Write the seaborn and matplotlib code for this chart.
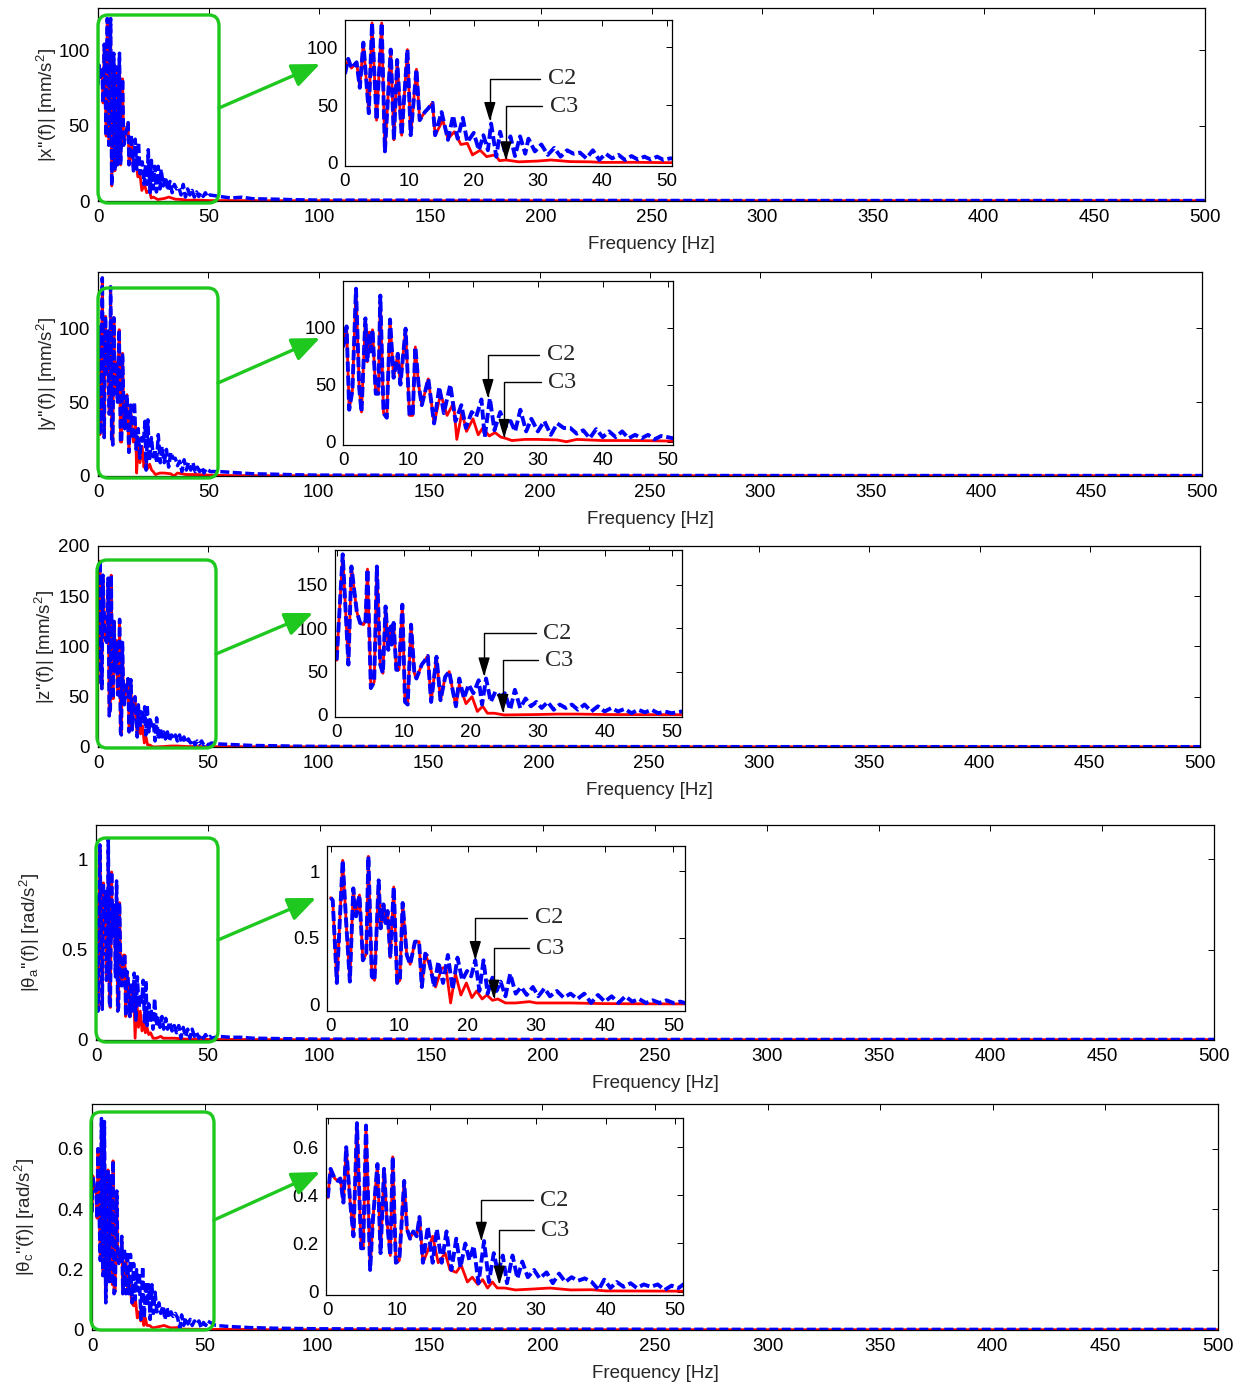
import numpy as np
import pandas as pd
import seaborn as sns
import matplotlib
matplotlib.use("Agg")
import matplotlib.pyplot as plt
from matplotlib.patches import FancyBboxPatch, FancyArrowPatch
from matplotlib.ticker import FuncFormatter

# ---------------- data ----------------
FREQ_TICKS = [0, 50, 100, 150, 200, 250, 300, 350, 400, 450, 500]
INSET_TICKS = [0, 10, 20, 30, 40, 50]

# Panel 1 : |x''(f)|
P1_LOW_F = [0, 0.5, 1.0, 1.8, 2.3, 2.85, 3.7, 4.2, 4.9, 5.7, 6.2, 7.1, 7.6, 8.1, 8.8, 9.7, 10.2, 11.1, 11.6, 12.4, 12.9, 13.6, 14.0]
P1_LOW = [77, 90, 82, 87, 65, 104, 43, 121, 37, 121, 10, 98, 20, 89, 24, 98, 24, 81, 37, 44, 47, 52, 24]
P1_C2_F = [15.0, 16.0, 16.8, 17.5, 18.3, 19.0, 20.0, 20.8, 21.5, 22.2, 22.7, 23.5, 24.1, 24.9, 25.7, 26.4, 27.2, 28.0, 28.5, 29.5,
           30.5, 31.5, 32.5, 33.5, 34.5, 35.5, 36.5, 37.5, 38.5, 39.5, 40.5, 41.5, 42.5, 43.5, 44.5, 45.5, 46.5, 47.5, 48.5, 49.5, 50.5,
           55, 60, 65, 70, 80, 90, 100, 150, 200, 300, 400, 500]
P1_C2 = [44, 20, 41, 21, 39, 18, 26, 11, 24, 11, 34, 5.5, 27, 8, 23, 6, 23, 8, 21, 10,
         16, 7, 13, 5.5, 11, 8, 9, 4, 11, 2.6, 8, 4, 7, 2.6, 6, 3, 5.5, 3, 5.5, 2.6, 4,
         3, 2, 2.5, 1.5, 1.2, 0.8, 0.6, 0.5, 0.4, 0.3, 0.3, 0.3]
P1_C3_F = [15.2, 16.0, 17.0, 18.0, 19.0, 19.8, 21.0, 22.0, 23.3, 24.0, 25.0, 27.0, 30.0, 32.0, 35.0, 38.0, 40.0, 45.0, 50.0,
           60, 80, 100, 200, 300, 400, 500]
P1_C3 = [37, 21, 27, 16, 17, 7, 11, 5.5, 7, 2, 2.6, 1, 1.7, 2.6, 1.2, 1, 0.5, 0.6, 0.3,
         0.3, 0.2, 0.2, 0.2, 0.2, 0.2, 0.2]

# Panel 2 : |y''(f)|
P2_LOW_F = [0, 0.5, 0.9, 1.4, 1.95, 2.45, 2.8, 3.4, 3.7, 4.0, 4.2, 4.5, 5.0, 5.4, 5.7, 6.2, 6.7, 7.2, 7.75, 8.4, 8.8, 9.6, 10.2, 10.7, 11.1, 11.6, 12.1, 13.1, 14.0]
P2_LOW = [83, 101, 28, 45, 134, 47, 26, 108, 70, 96, 79, 98, 42, 42, 128, 25, 21, 107, 56, 77, 50, 99, 23, 23, 83, 50, 32, 55, 16]
P2_C2_F = [14.8, 15.5, 16.5, 17.3, 18.2, 18.9, 19.8, 20.5, 21.3, 21.8, 22.6, 23.3, 24.2, 25.0, 25.8, 26.5, 27.3, 28.2, 29.0,
           30, 31, 32, 33, 34, 35, 36, 37, 38, 39, 40, 41, 42, 43, 44, 45, 46, 47, 48, 49, 50, 50.8,
           55, 60, 65, 70, 80, 90, 100, 150, 200, 300, 400, 500]
P2_C2 = [48, 25, 50, 18, 32, 12, 26, 22, 37, 4, 38, 10, 26, 13, 18, 9, 28, 9, 20,
         9, 18, 6, 16, 12, 12, 7, 10, 3, 11, 4, 9, 4, 9, 3, 6, 3, 6, 2, 5, 4, 3,
         3, 2.5, 2, 1.5, 1.2, 0.8, 0.6, 0.5, 0.4, 0.3, 0.3, 0.3]
P2_C3_F = [15.0, 16.0, 17.0, 17.5, 18.3, 19.0, 20.0, 20.8, 21.5, 22.5, 23.4, 24.3, 25.0, 26.0, 28.0, 30.0, 33.0, 34.4, 36.0, 40.0, 45.0, 50.0,
           60, 80, 100, 200, 300, 400, 500]
P2_C3 = [42, 23, 34, 2, 26, 9, 20, 6, 12, 5, 8, 4, 3, 1, 2, 2, 1.5, 0, 2, 1, 1, 0.6,
         0.3, 0.2, 0.2, 0.2, 0.2, 0.2, 0.2]

# Panel 3 : |z''(f)|
P3_LOW_F = [0, 0.9, 1.75, 2.2, 3.0, 3.5, 4.0, 4.3, 4.6, 5.1, 5.6, 6.0, 6.5, 6.9, 7.3, 7.7, 8.1, 8.2, 8.5, 8.9,
            9.3, 9.8, 10.2, 10.6, 11.1, 11.6, 11.9, 12.7, 13.1, 13.6, 14.1, 14.9, 15.5, 16.2, 16.8, 17.4, 17.8]
P3_LOW = [63, 185, 58, 171, 119, 106, 104, 108, 168, 31, 38, 171, 58, 48, 125, 75, 102, 81, 106, 52,
          52, 127, 15, 12, 104, 48, 42, 58, 62, 68, 15, 67, 17, 44, 50, 25, 10]
P3_C2_F = [18.3, 19.0, 19.7, 20.4, 21.2, 21.7, 22.3, 23.0, 23.7, 24.5, 25.1, 25.9, 26.6, 27.4, 28.2, 29.0, 29.8, 30.6, 31.5, 32.4,
           33.3, 34.2, 35.1, 36, 37, 38, 39, 40, 41, 42, 43, 44, 45, 46, 47, 48, 49, 50, 51.5,
           55, 60, 65, 70, 80, 90, 100, 150, 200, 300, 400, 500]
P3_C2 = [42, 19, 35, 25, 40, 12, 42, 15, 27, 21, 25, 6, 29, 8, 19, 10, 15, 8, 15, 6,
         12, 8, 12, 6, 12, 4, 10, 4, 8, 4, 7, 2, 6, 3, 6, 2, 4, 2, 4,
         3, 2.5, 2, 1.5, 1.2, 0.8, 0.6, 0.5, 0.4, 0.3, 0.3, 0.3]
P3_C3_F = [18.3, 19.3, 20.2, 21.0, 21.8, 22.5, 23.5, 25.0, 30, 33, 36, 40, 50, 60, 80, 100, 200, 300, 400, 500]
P3_C3 = [35, 13, 21, 4, 10, 2, 2, 0, 0.5, 1, 1, 0.5, 0.3, 0.3, 0.2, 0.2, 0.2, 0.2, 0.2, 0.2]

# Panel 4 : |theta_a''(f)|
P4_LOW_F = [0, 0.3, 0.9, 1.75, 2.3, 2.8, 3.3, 3.7, 4.2, 4.7, 5.2, 5.5, 6.0, 6.4, 7.0, 7.3, 7.7, 8.0, 8.3, 8.7,
            9.2, 9.7, 10.1, 10.5, 11.1, 11.6, 12.3, 12.9, 13.3, 13.8]
P4_LOW = [0.80, 0.78, 0.16, 1.08, 0.58, 0.17, 0.87, 0.66, 0.82, 0.33, 0.38, 1.11, 0.21, 0.18, 0.93, 0.57, 0.75, 0.61, 0.70, 0.35,
          0.88, 0.16, 0.18, 0.76, 0.37, 0.30, 0.47, 0.47, 0.13, 0.38]
P4_C2_F = [14.3, 15.1, 15.7, 16.4, 17.1, 17.8, 18.5, 19.2, 19.9, 20.5, 21.1, 21.7, 22.3, 22.9, 23.6, 24.2, 24.8, 25.5, 26.2, 27.0,
           27.8, 28.6, 29.5, 30.3, 31.2, 32, 33, 34, 35, 36, 37, 38, 39, 40, 41, 42, 43, 44, 45, 46, 47, 48, 49, 50, 51, 51.7,
           55, 60, 65, 70, 80, 90, 100, 150, 200, 300, 400, 500]
P4_C2 = [0.35, 0.13, 0.32, 0.16, 0.37, 0.11, 0.35, 0.18, 0.25, 0.21, 0.33, 0.10, 0.33, 0.08, 0.20, 0.10, 0.17, 0.06, 0.23, 0.08,
         0.13, 0.07, 0.13, 0.06, 0.12, 0.06, 0.10, 0.05, 0.08, 0.04, 0.08, 0.01, 0.07, 0.02, 0.06, 0.01, 0.06, 0.02, 0.04, 0.01,
         0.03, 0.01, 0.03, 0.01, 0.02, 0.01,
         0.02, 0.015, 0.015, 0.01, 0.008, 0.006, 0.005, 0.004, 0.003, 0.003, 0.003, 0.003]
P4_C3_F = [14.5, 15.3, 16.2, 16.8, 17.5, 18.2, 19.0, 19.8, 20.6, 21.3, 22.1, 22.8, 23.6, 24.4, 25.5, 27, 29, 30, 35, 40, 50,
           60, 80, 100, 200, 300, 400, 500]
P4_C3 = [0.28, 0.13, 0.27, 0.28, 0.01, 0.23, 0.07, 0.16, 0.05, 0.10, 0.04, 0.07, 0.03, 0.04, 0.01, 0.01, 0.02, 0.01, 0.01, 0.005, 0.003,
         0.003, 0.002, 0.002, 0.002, 0.002, 0.002, 0.002]

# Panel 5 : |theta_c''(f)|
P5_LOW_F = [0, 0.4, 1.0, 1.45, 1.8, 2.25, 2.65, 3.2, 3.7, 4.2, 4.8, 5.1, 5.5, 6.1, 6.5, 7.15, 7.6, 8.1, 8.5, 9.0,
            9.35, 9.8, 10.3, 11.0, 11.4, 11.85, 12.3, 12.8, 13.2, 13.7]
P5_LOW = [0.39, 0.51, 0.47, 0.46, 0.47, 0.37, 0.60, 0.38, 0.23, 0.70, 0.18, 0.18, 0.69, 0.09, 0.30, 0.53, 0.16, 0.51, 0.30, 0.15,
          0.56, 0.12, 0.13, 0.46, 0.26, 0.22, 0.25, 0.23, 0.31, 0.12]
P5_C2_F = [14.4, 15.1, 15.7, 16.4, 17.1, 17.8, 18.5, 19.1, 19.8, 20.4, 21.0, 21.7, 22.5, 23.2, 23.9, 24.5, 25.2, 25.8, 26.6, 27.3,
           28.0, 28.8, 29.7, 30.5, 31.5, 32.4, 33.3, 34.2, 35.1, 36, 37, 38, 39, 39.8, 40.7, 41.6, 42.6, 43.6, 44.5, 45.5,
           46.5, 47.5, 48.5, 49.5, 50.5, 51.2,
           55, 60, 65, 70, 80, 90, 100, 150, 200, 300, 400, 500]
P5_C2 = [0.27, 0.12, 0.26, 0.12, 0.25, 0.09, 0.22, 0.10, 0.20, 0.13, 0.19, 0.035, 0.21, 0.04, 0.16, 0.08, 0.15, 0.035, 0.15, 0.055,
         0.125, 0.06, 0.09, 0.055, 0.08, 0.035, 0.075, 0.04, 0.06, 0.045, 0.055, 0.04, 0.007, 0.05, 0.015, 0.04, 0.02, 0.035, 0.015, 0.03,
         0.02, 0.03, 0.007, 0.025, 0.015, 0.03,
         0.015, 0.012, 0.01, 0.008, 0.006, 0.005, 0.004, 0.003, 0.003, 0.002, 0.002, 0.002]
P5_C3_F = [14.4, 15.1, 15.9, 16.9, 17.6, 18.5, 19.2, 20.1, 20.8, 21.6, 22.3, 23.0, 23.7, 24.4, 25.5, 27, 29, 32, 35, 38, 40, 50,
           60, 80, 100, 200, 300, 400, 500]
P5_C3 = [0.17, 0.23, 0.12, 0.16, 0.09, 0.08, 0.11, 0.04, 0.06, 0.03, 0.05, 0.015, 0.04, 0.015, 0.015, 0.007, 0.01, 0.015, 0.007, 0.008, 0.003, 0.002,
         0.002, 0.001, 0.001, 0.001, 0.001, 0.001, 0.001]

YLABELS = [r"|x''(f)| [mm/s$^2$]", r"|y''(f)| [mm/s$^2$]", r"|z''(f)| [mm/s$^2$]",
           r"|$\theta_a$''(f)| [rad/s$^2$]", r"|$\theta_c$''(f)| [rad/s$^2$]"]
MAIN_YTICKS = [[0, 50, 100], [0, 50, 100], [0, 50, 100, 150, 200], [0, 0.5, 1], [0, 0.2, 0.4, 0.6]]
MAIN_YLIM = [(0, 128), (0, 138), (0, 200), (0, 1.19), (0, 0.748)]
INSET_YTICKS = [[0, 50, 100], [0, 50, 100], [0, 50, 100, 150], [0, 0.5, 1], [0, 0.2, 0.4, 0.6]]
INSET_XLIM = [(0, 50.8), (-0.1, 50.8), (-0.25, 51.5), (-0.58, 51.7), (-0.3, 51.1)]
INSET_YLIM = [(-2.6, 124), (-2.9, 141), (-2.7, 190), (-0.048, 1.19), (-0.014, 0.72)]
# C2 / C3 annotation: (text x, text y, tip x, tip y) in inset data units
C2_ANN = [(31.5, 73, 22.5, 36), (31.4, 76, 22.3, 38), (30.8, 94, 22.0, 44), (29.8, 0.65, 21.1, 0.33), (30.6, 0.38, 22.1, 0.21)]
C3_ANN = [(31.8, 49, 25.0, 2), (31.6, 52, 24.8, 3), (31.1, 63, 24.8, 2), (30.0, 0.42, 23.8, 0.04), (30.7, 0.256, 24.7, 0.028)]

PANELS = [
    (P1_LOW_F, P1_LOW, P1_C2_F, P1_C2, P1_C3_F, P1_C3),
    (P2_LOW_F, P2_LOW, P2_C2_F, P2_C2, P2_C3_F, P2_C3),
    (P3_LOW_F, P3_LOW, P3_C2_F, P3_C2, P3_C3_F, P3_C3),
    (P4_LOW_F, P4_LOW, P4_C2_F, P4_C2, P4_C3_F, P4_C3),
    (P5_LOW_F, P5_LOW, P5_C2_F, P5_C2, P5_C3_F, P5_C3),
]

# ---------------- layout (pixels) ----------------
W, H = 1243, 1388
MAIN_BOX = [(98, 8, 1205, 201), (98, 272, 1202, 476), (98, 546, 1200, 747), (96, 825, 1214, 1040), (92, 1104, 1218, 1330)]
INSET_BOX = [(345, 19.5, 672, 166), (342.7, 280.7, 672.7, 445), (335, 550, 681.7, 717.3),
             (326.7, 845.7, 685, 1010.7), (325.7, 1118.3, 682.7, 1295)]
GREEN_BOX = [(98, 15, 219, 203), (98, 288, 218, 478), (97, 560, 216, 748), (96, 838, 218, 1042), (91, 1112, 214, 1330)]
GREEN_ARROW = [((219, 108), (320, 64)), ((218, 383), (320, 338)), ((216, 654), (313, 613)),
               ((218, 940), (316, 898)), ((214, 1220), (320, 1172))]
YLABEL_X = [59, 59, 57, 42, 37]

RED = "#ff0000"
BLUE = "#0000ff"
GREEN = "#1ec81e"
FS = 13.5

sns.set_style("white")
plt.rcParams["font.family"] = ["Liberation Sans", "DejaVu Sans"]
plt.rcParams["mathtext.fontset"] = "custom"
plt.rcParams["mathtext.rm"] = "Liberation Sans"
plt.rcParams["mathtext.it"] = "Liberation Sans:italic"
plt.rcParams["mathtext.default"] = "regular"
plt.rcParams["axes.edgecolor"] = "black"
plt.rcParams["axes.linewidth"] = 0.8

fig = plt.figure(figsize=(W / 100, H / 100), dpi=100)


def px_rect(box):
    l, t, r, b = box
    return [l / W, 1 - b / H, (r - l) / W, (b - t) / H]


def fmt(v, pos):
    return "%g" % v


def draw_lines(ax, panel, lw_red, lw_blue):
    lf, lv, f2, v2, f3, v3 = panel
    c3f = list(lf) + list(f3)
    c3v = list(lv) + list(v3)
    c2f = list(lf) + list(f2)
    c2v = list(lv) + list(v2)
    sns.lineplot(x=c3f, y=c3v, ax=ax, color=RED, linewidth=lw_red, estimator=None, legend=False)
    sns.lineplot(x=c2f, y=c2v, ax=ax, color=BLUE, linewidth=lw_blue, estimator=None, legend=False)
    ax.lines[-1].set_linestyle((0, (2.6, 1.0)))
    ax.lines[-1].set_dash_capstyle("butt")


def style_ticks(ax, size):
    ax.tick_params(direction="in", top=True, right=True, length=4, width=0.7,
                   labelsize=size, colors="black", pad=6)
    for s in ax.spines.values():
        s.set_color("black")
        s.set_linewidth(0.9)
    ax.yaxis.set_major_formatter(FuncFormatter(fmt))
    ax.xaxis.set_major_formatter(FuncFormatter(fmt))


for i, panel in enumerate(PANELS):
    ax = fig.add_axes(px_rect(MAIN_BOX[i]))
    draw_lines(ax, panel, 2.0, 2.5)
    ax.set_xlim(0, 500)
    ax.set_ylim(*MAIN_YLIM[i])
    ax.set_xticks(FREQ_TICKS)
    ax.set_yticks(MAIN_YTICKS[i])
    style_ticks(ax, FS)
    ax.set_xlabel("Frequency [Hz]", fontsize=FS, labelpad=7)
    ax.set_ylabel(YLABELS[i], fontsize=FS)
    l, t, r, b = MAIN_BOX[i]
    ax.yaxis.set_label_coords((YLABEL_X[i] - l) / (r - l), 0.5)

    # green zoom box and arrow
    gl, gt, gr, gb = GREEN_BOX[i]
    box = FancyBboxPatch((gl / W, 1 - gb / H), (gr - gl) / W, (gb - gt) / H,
                         boxstyle="round,pad=0,rounding_size=0.008",
                         transform=fig.transFigure, fill=False, ec=GREEN, lw=2.4, zorder=5)
    fig.add_artist(box)
    (x0, y0), (x1, y1) = GREEN_ARROW[i]
    arr = FancyArrowPatch((x0 / W, 1 - y0 / H), (x1 / W, 1 - y1 / H), transform=fig.transFigure,
                          arrowstyle="-|>,head_length=0.85,head_width=0.36", mutation_scale=20,
                          color=GREEN, lw=2.4, shrinkA=0, shrinkB=0, zorder=5)
    fig.add_artist(arr)

    # inset
    ai = fig.add_axes(px_rect(INSET_BOX[i]))
    ai.set_facecolor("white")
    draw_lines(ai, panel, 2.0, 2.8)
    ai.set_xlim(*INSET_XLIM[i])
    ai.set_ylim(*INSET_YLIM[i])
    ai.set_xticks(INSET_TICKS)
    ai.set_yticks(INSET_YTICKS[i])
    style_ticks(ai, FS)
    ai.tick_params(pad=5)
    ai.set_xlabel("")
    ai.set_ylabel("")

    for (tx, ty, px, py), lab in ((C2_ANN[i], "C2"), (C3_ANN[i], "C3")):
        ai.annotate(lab, xy=(px, py), xytext=(tx, ty), textcoords="data", xycoords="data",
                    ha="left", va="center", fontsize=17.5, family="Liberation Serif",
                    arrowprops=dict(arrowstyle="-|>,head_length=0.9,head_width=0.27",
                                    connectionstyle="angle,angleA=0,angleB=90,rad=0",
                                    color="black", lw=1.0, shrinkA=3, shrinkB=0,
                                    relpos=(0, 0.5), mutation_scale=13))

fig.savefig("out.png", dpi=100, facecolor="white")
